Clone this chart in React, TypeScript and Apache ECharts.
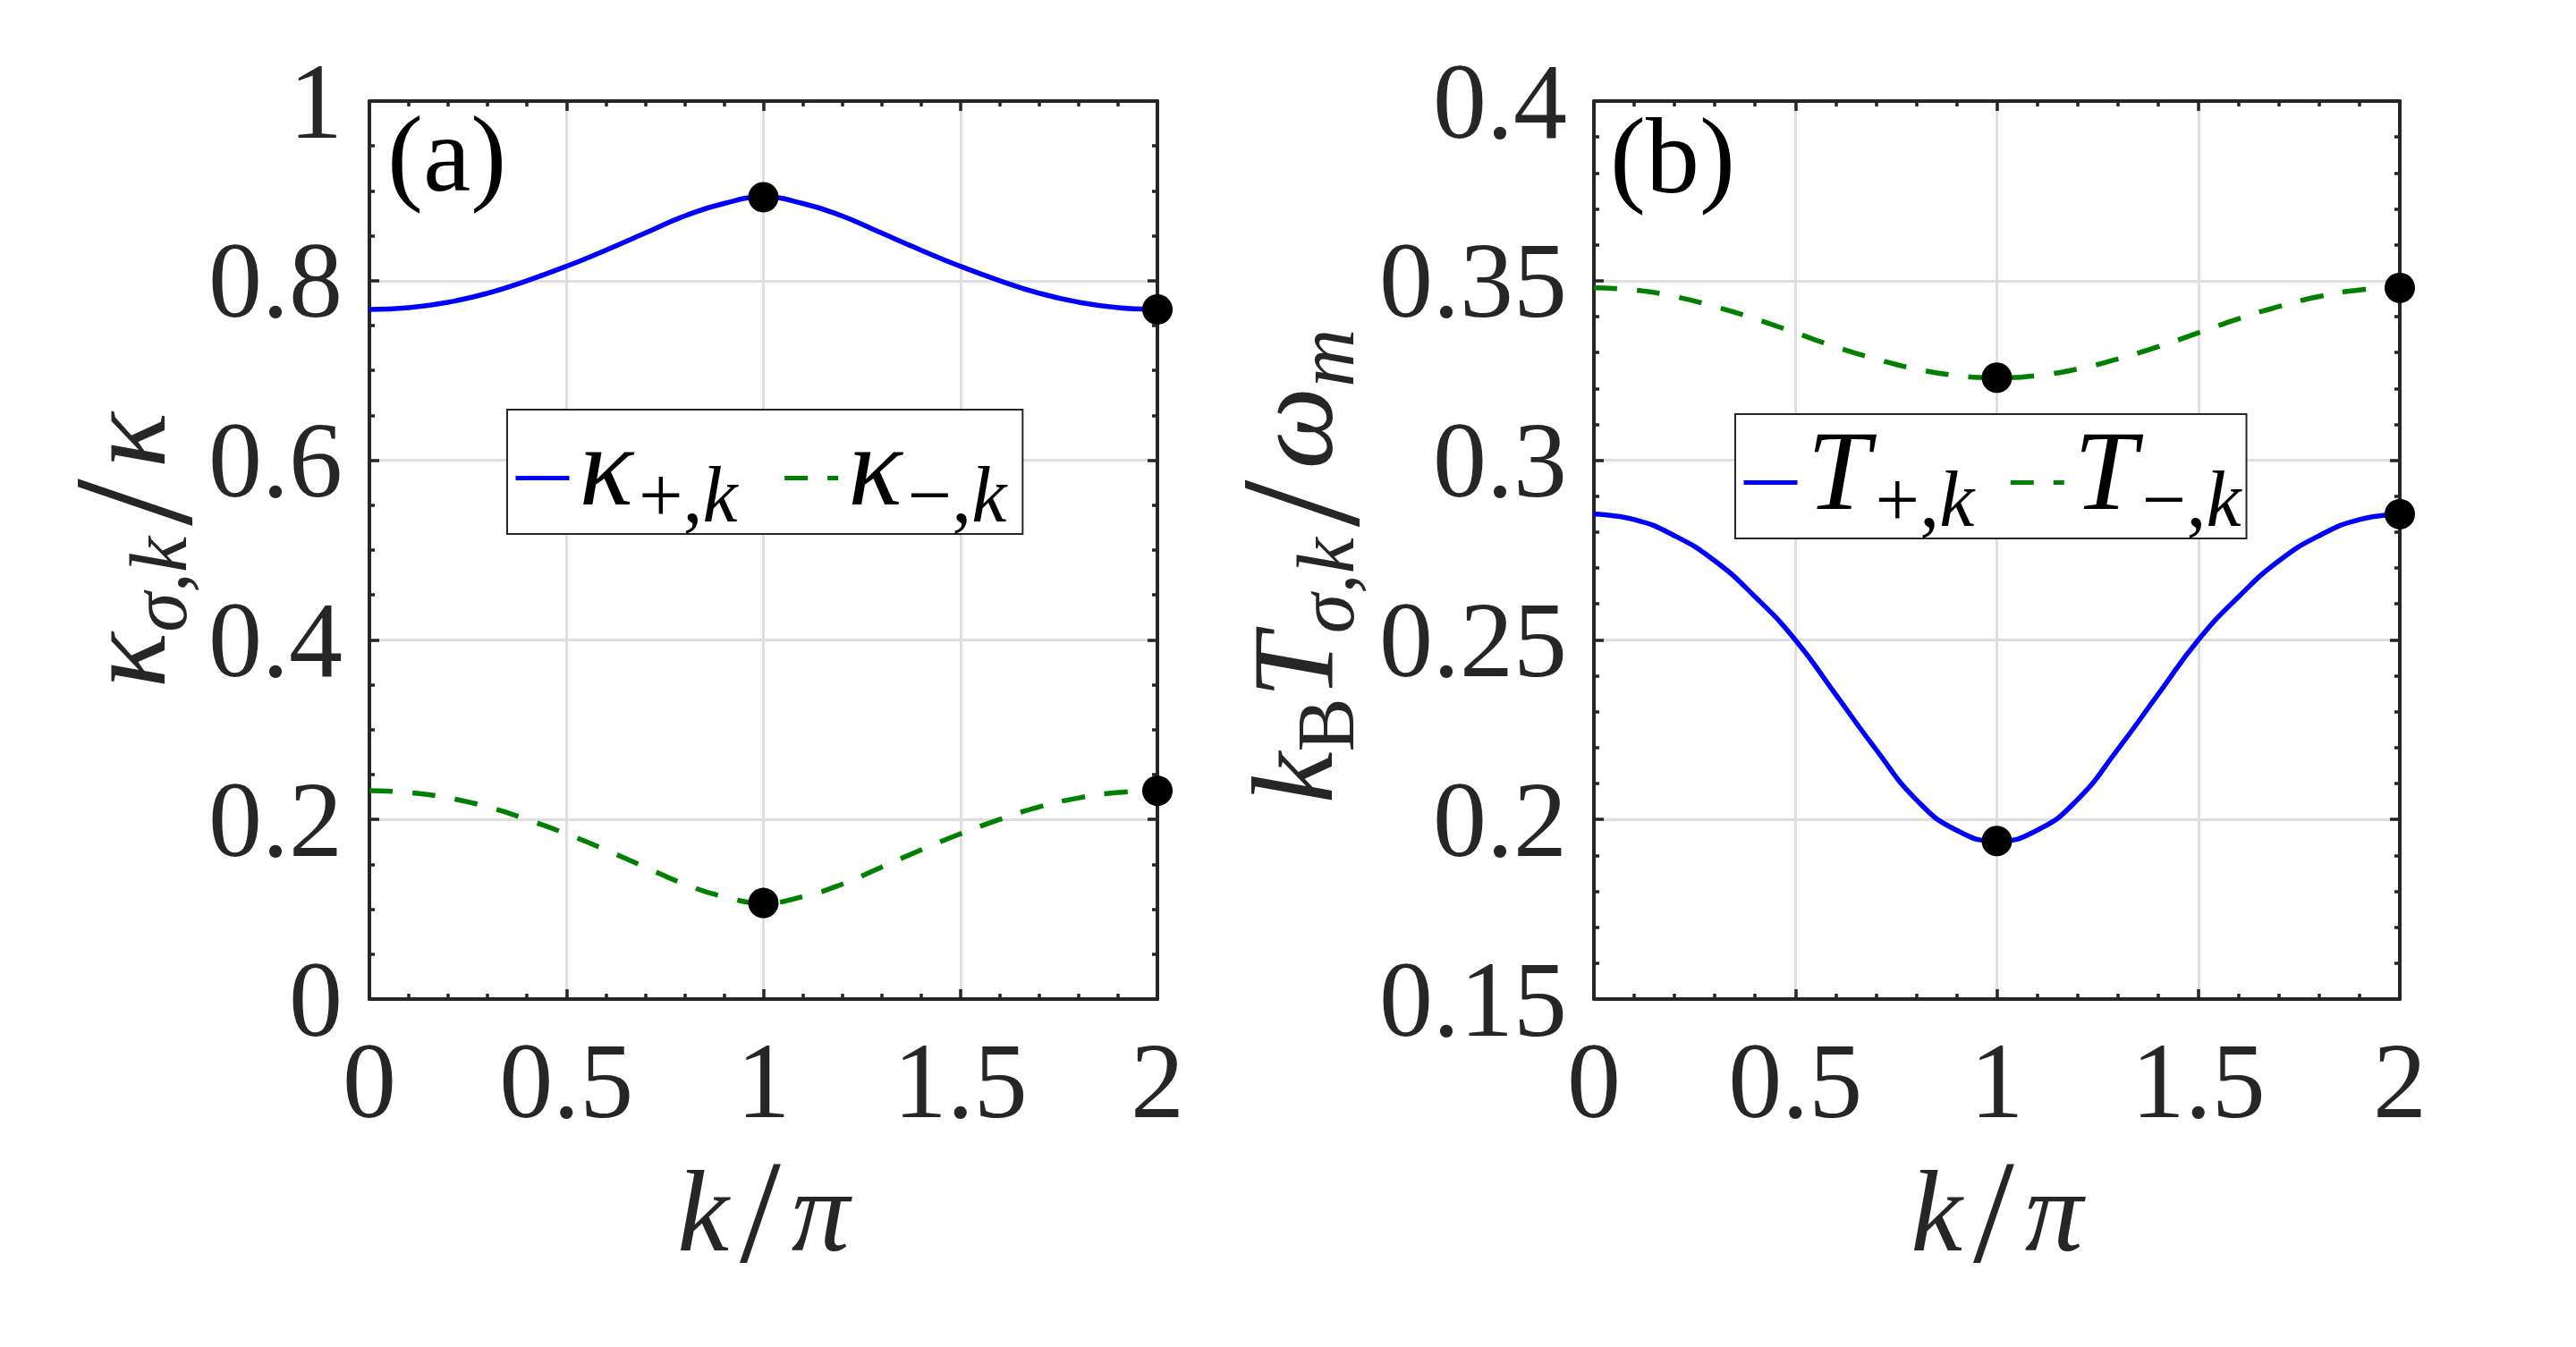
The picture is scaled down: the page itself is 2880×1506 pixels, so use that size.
import React, { useEffect, useRef } from "react";
import * as echarts from "echarts";

// ---------- data ----------
const K = [0, 0.1, 0.2, 0.3, 0.4, 0.5, 0.6, 0.7, 0.8, 0.9, 1, 1.1, 1.2, 1.3, 1.4, 1.5, 1.6, 1.7, 1.8, 1.9, 2];
const kappaPlus = [0.768, 0.770, 0.776, 0.786, 0.800, 0.816, 0.834, 0.853, 0.872, 0.886, 0.893,
  0.886, 0.872, 0.853, 0.834, 0.816, 0.800, 0.786, 0.776, 0.770, 0.768];
const kappaMinus = [0.232, 0.230, 0.224, 0.214, 0.200, 0.184, 0.166, 0.147, 0.128, 0.114, 0.107,
  0.114, 0.128, 0.147, 0.166, 0.184, 0.200, 0.214, 0.224, 0.230, 0.232];
const tPlus = [0.285, 0.2835, 0.279, 0.272, 0.262, 0.250, 0.2348, 0.2195, 0.2055, 0.197, 0.194,
  0.197, 0.2055, 0.2195, 0.2348, 0.250, 0.262, 0.272, 0.279, 0.2835, 0.285];
const tMinus = [0.348, 0.3474, 0.3456, 0.3428, 0.3394, 0.3355, 0.3316, 0.3282, 0.3254, 0.3236, 0.323,
  0.3236, 0.3254, 0.3282, 0.3316, 0.3355, 0.3394, 0.3428, 0.3456, 0.3474, 0.348];
const dotK = [1, 2];
const xTicks = { min: 0, max: 2, interval: 0.5 };
const yTicksA = { min: 0, max: 1, interval: 0.2 };
const yTicksB = { min: 0.15, max: 0.4, interval: 0.05 };

// ---------- styles ----------
const FONT = "'Liberation Serif', 'Times New Roman', serif";
const AX = "#262626";
const BLUE = "#0000ff";
const GREEN = "#008000";
const LW = 5.5;

const mathRich = {
  m: { fontFamily: FONT, fontStyle: "italic", fontSize: 130, color: AX, verticalAlign: "top", padding: [0, 0, 0, 0] },
  s: { fontFamily: FONT, fontStyle: "italic", fontSize: 90, color: AX, verticalAlign: "top", padding: [57, 0, 0, 0] },
  se: { fontFamily: FONT, fontStyle: "italic", fontSize: 90, color: AX, verticalAlign: "top", padding: [57, 36, 0, 0] },
  sr: { fontFamily: FONT, fontStyle: "normal", fontSize: 90, color: AX, verticalAlign: "top", padding: [57, 0, 0, 0] },
  sl: { fontFamily: FONT, fontStyle: "normal", fontSize: 190, lineHeight: 100, color: AX, verticalAlign: "middle", padding: [0, 12, 0, 12] },
  sx: { fontFamily: FONT, fontStyle: "normal", fontSize: 165, lineHeight: 100, color: AX, verticalAlign: "middle", padding: [0, 12, 0, 12] },
};

const legendRich = {
  lm: { fontFamily: FONT, fontStyle: "italic", fontSize: 126, color: "#000", verticalAlign: "top", padding: [0, 2, 0, 6] },
  lsr: { fontFamily: FONT, fontStyle: "normal", fontSize: 88, color: "#000", verticalAlign: "top", padding: [51, 0, 14, 4] },
  lsi: { fontFamily: FONT, fontStyle: "italic", fontSize: 88, color: "#000", verticalAlign: "top", padding: [51, 14, 14, 0] },
};

const legendText: Record<string, string> = {
  kp: "{lm|κ}{lsr|+,}{lsi|k}",
  km: "{lm|κ}{lsr|−,}{lsi|k}",
  tp: "{lm|T}{lsr|+,}{lsi|k}",
  tm: "{lm|T}{lsr|−,}{lsi|k}",
};

const axisLineStyle = { color: AX, width: 4 };

function mainX(gridIndex: number) {
  return {
    type: "value", gridIndex, position: "bottom", ...xTicks,
    axisLine: { show: true, onZero: false, lineStyle: axisLineStyle },
    axisTick: { show: true, inside: true, length: 11, lineStyle: { color: AX, width: 3.5 } },
    minorTick: { show: true, splitNumber: 5, length: 6, lineStyle: { color: AX, width: 3.5 } },
    axisLabel: { show: true, margin: 31, fontFamily: FONT, fontSize: 120, color: AX },
    splitLine: { show: true, lineStyle: { color: "#dedede", width: 3 } },
    name: "{m|k}{sx|/}{m|π}",
    nameLocation: "middle",
    nameGap: 172,
    nameMoveOverlap: false,
    nameTextStyle: { rich: mathRich },
  };
}
function topX(gridIndex: number) {
  return {
    type: "value", gridIndex, position: "top", ...xTicks,
    axisLine: { show: true, onZero: false, lineStyle: axisLineStyle },
    axisTick: { show: true, inside: true, length: 11, lineStyle: { color: AX, width: 3.5 } },
    minorTick: { show: true, splitNumber: 5, length: 6, lineStyle: { color: AX, width: 3.5 } },
    axisLabel: { show: false },
    splitLine: { show: false },
  };
}
function mainY(gridIndex: number, ticks: any, minor: number, name: string, gap: number) {
  return {
    type: "value", gridIndex, position: "left", ...ticks,
    axisLine: { show: true, onZero: false, lineStyle: axisLineStyle },
    axisTick: { show: true, inside: true, length: 11, lineStyle: { color: AX, width: 3.5 } },
    minorTick: { show: true, splitNumber: minor, length: 6, lineStyle: { color: AX, width: 3.5 } },
    axisLabel: { show: true, margin: 30, fontFamily: FONT, fontSize: 120, color: AX },
    splitLine: { show: true, lineStyle: { color: "#dedede", width: 3 } },
    name, nameLocation: "middle", nameGap: gap, nameMoveOverlap: false,
    nameTextStyle: { rich: mathRich },
  };
}
function rightY(gridIndex: number, ticks: any, minor: number) {
  return {
    type: "value", gridIndex, position: "right", ...ticks,
    axisLine: { show: true, onZero: false, lineStyle: axisLineStyle },
    axisTick: { show: true, inside: true, length: 11, lineStyle: { color: AX, width: 3.5 } },
    minorTick: { show: true, splitNumber: minor, length: 6, lineStyle: { color: AX, width: 3.5 } },
    axisLabel: { show: false },
    splitLine: { show: false },
  };
}

function lineSeries(name: string, xi: number, yi: number, vals: number[], color: string, dashed: boolean) {
  return {
    name, type: "line", xAxisIndex: xi, yAxisIndex: yi,
    data: K.map((k, i) => [k, vals[i]]),
    smooth: true, symbol: "none", z: 3,
    lineStyle: { color, width: LW, type: dashed ? [26, 22] : "solid" },
    itemStyle: { color },
  };
}
function dotSeries(xi: number, yi: number, vals: number[]) {
  return {
    type: "scatter", xAxisIndex: xi, yAxisIndex: yi, z: 5,
    data: dotK.map((k) => [k, vals[K.indexOf(k)]]),
    symbol: "circle", symbolSize: 34, itemStyle: { color: "#000", opacity: 1 },
  };
}

function legend(names: string[], left: number, top: number, gap: number, padRight: number) {
  return {
    data: names, left, top, orient: "horizontal",
    itemWidth: 60, itemHeight: 20, itemGap: gap,
    padding: [0, padRight, 0, 7],
    borderColor: AX, borderWidth: 2, backgroundColor: "#fff",
    selectedMode: false,
    itemStyle: { opacity: 0 },
    lineStyle: { width: 5 },
    formatter: (n: string) => legendText[n],
    textStyle: { rich: legendRich },
  };
}

function buildOption() {
  return {
    animation: false,
    backgroundColor: "#fff",
    title: [
      { text: "(a)", left: 433, top: 112, padding: 0, textStyle: { fontFamily: FONT, fontSize: 120, fontWeight: "normal", color: "#000" } },
      { text: "(b)", left: 1800, top: 114, padding: 0, textStyle: { fontFamily: FONT, fontSize: 120, fontWeight: "normal", color: "#000" } },
    ],
    grid: [
      { left: 413, top: 113, width: 881, height: 1004 },
      { left: 1782, top: 113, width: 901, height: 1004 },
    ],
    xAxis: [mainX(0), topX(0), mainX(1), topX(1)],
    yAxis: [
      mainY(0, yTicksA, 4, "{m|κ}{s|σ,k}{sl|/}{m|κ}", 191),
      rightY(0, yTicksA, 4),
      mainY(1, yTicksB, 5, "{m|k}{sr|B}{m|T}{s|σ,k}{sl|/}{m|ω}{se|m}", 255),
      rightY(1, yTicksB, 5),
    ],
    legend: [legend(["kp", "km"], 567, 458, 50, 18), legend(["tp", "tm"], 1940, 463, 38, 6)],
    series: [
      lineSeries("kp", 0, 0, kappaPlus, BLUE, false),
      lineSeries("km", 0, 0, kappaMinus, GREEN, true),
      dotSeries(0, 0, kappaPlus),
      dotSeries(0, 0, kappaMinus),
      lineSeries("tp", 2, 2, tPlus, BLUE, false),
      lineSeries("tm", 2, 2, tMinus, GREEN, true),
      dotSeries(2, 2, tPlus),
      dotSeries(2, 2, tMinus),
    ],
  };
}

export default function App() {
  const ref = useRef<HTMLDivElement>(null);
  useEffect(() => {
    if (!ref.current) return;
    const chart = echarts.init(ref.current, null, { renderer: "svg" });
    chart.setOption(buildOption() as any);
    return () => chart.dispose();
  }, []);
  return (
    <div
      ref={ref}
      style={{ position: "fixed", left: 0, top: 0, width: 2880, height: 1506, background: "#fff" }}
    />
  );
}
